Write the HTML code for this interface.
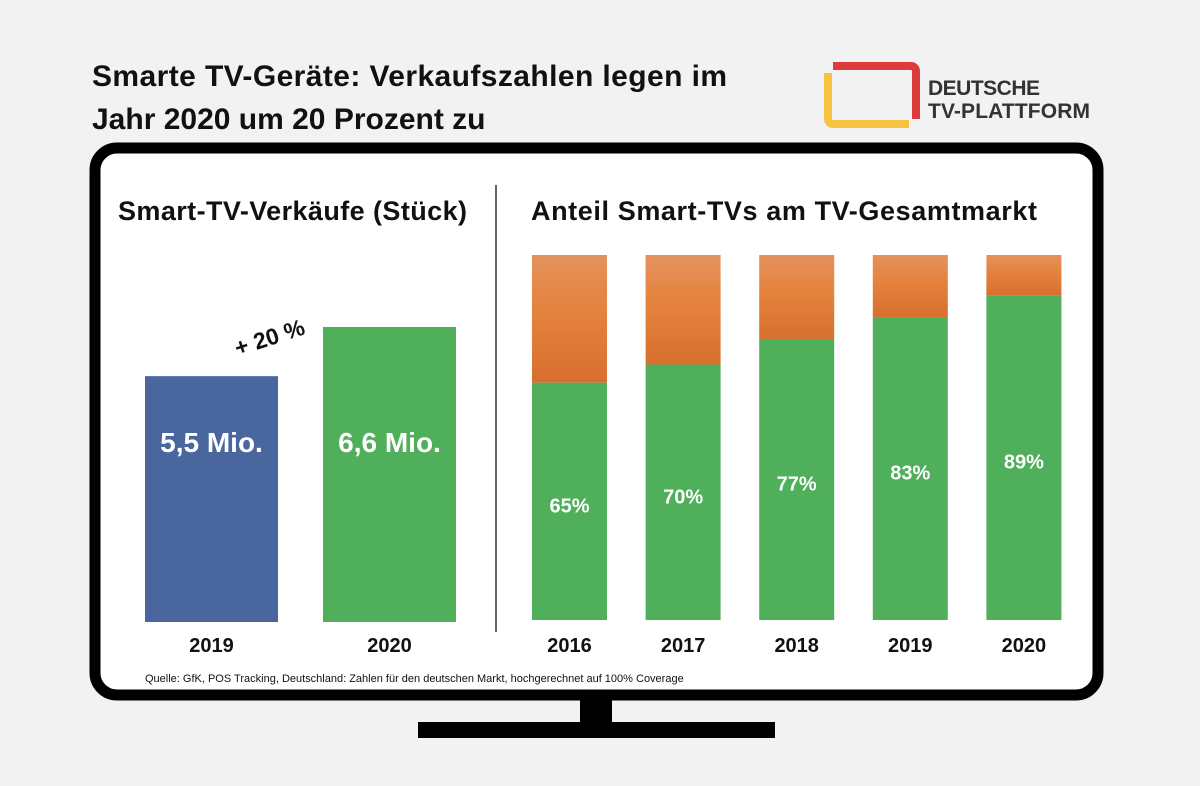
<!DOCTYPE html>
<html><head><meta charset="utf-8"><style>
body{margin:0;background:#f2f2f2;font-family:"Liberation Sans","DejaVu Sans",sans-serif;}
#wrap{position:relative;width:1200px;height:786px;overflow:hidden;}
</style></head><body>
<div id="wrap">
<svg width="1200" height="786" id="svg" font-family="Liberation Sans, DejaVu Sans, sans-serif">
<defs>
<linearGradient id="og" x1="0" y1="0" x2="0" y2="1"><stop offset="0" stop-color="#e3925e"/><stop offset="0.4" stop-color="#e5843f"/><stop offset="1" stop-color="#d86f2f"/></linearGradient>
</defs>
<text x="92" y="86" font-size="30" font-weight="bold" fill="#111" textLength="635">Smarte TV-Geräte: Verkaufszahlen legen im</text>
<text x="92" y="129" font-size="30" font-weight="bold" fill="#111">Jahr 2020 um 20 Prozent zu</text>
<g>
<path d="M833 66 H911 a5 5 0 0 1 5 5 V119" fill="none" stroke="#dd3b3b" stroke-width="8"/>
<path d="M828 73 V119 a5 5 0 0 0 5 5 H909" fill="none" stroke="#f5c242" stroke-width="8"/>
<text x="928" y="95" font-size="21" font-weight="bold" fill="#333" textLength="112">DEUTSCHE</text>
<text x="928" y="118" font-size="21" font-weight="bold" fill="#333" textLength="162">TV-PLATTFORM</text>
</g>
<rect x="95" y="148" width="1003" height="547" rx="22" fill="#fff" stroke="#000" stroke-width="11"/>
<rect x="580" y="700" width="32" height="24" fill="#000"/>
<rect x="418" y="722" width="357" height="16" fill="#000"/>
<line x1="496" y1="185" x2="496" y2="632" stroke="#333" stroke-width="1.5"/>
<text x="118" y="220" font-size="27" font-weight="bold" fill="#111" textLength="349">Smart-TV-Verkäufe (Stück)</text>
<text x="531" y="220" font-size="27" font-weight="bold" fill="#111" textLength="506">Anteil Smart-TVs am TV-Gesamtmarkt</text>
<text transform="translate(272,345) rotate(-18)" font-size="23" font-weight="bold" text-anchor="middle" fill="#111">+ 20 %</text>
<text x="145" y="682" font-size="11" fill="#111">Quelle: GfK, POS Tracking, Deutschland: Zahlen für den deutschen Markt, hochgerechnet auf 100% Coverage</text>
<g id="left"></g><g id="right"></g>
</svg>
</div>
<script>
const salesYears = ["2019","2020"];
const salesValues = [5.5, 6.6];
const salesLabels = ["5,5 Mio.","6,6 Mio."];
const salesColors = ["#4a669e","#4faf5a"];
const shareYears = ["2016","2017","2018","2019","2020"];
const shareValues = [65, 70, 77, 83, 89];
const shareLabels = ["65%","70%","77%","83%","89%"];
const NS="http://www.w3.org/2000/svg";
function mk(tag,attrs,parent){const e=document.createElementNS(NS,tag);for(const k in attrs)e.setAttribute(k,attrs[k]);parent.appendChild(e);return e;}
const L=document.getElementById('left');
const lBase=622, lScale=44.7;
const lx=i=>145+i*178, lw=133;
const ly=v=>lBase-v*lScale;
salesValues.forEach((v,i)=>{
 const r=mk('rect',{x:lx(i),y:ly(v),width:lw,height:lBase-ly(v),fill:salesColors[i]},L);
 
 
 const t=mk('text',{x:lx(i)+lw/2,y:452,'font-size':28,'font-weight':'bold',fill:'#fff','text-anchor':'middle'},L);
 t.textContent=salesLabels[i];
 
 
 const y=mk('text',{x:lx(i)+lw/2,y:652,'font-size':20,'font-weight':'bold',fill:'#111','text-anchor':'middle'},L);
 y.textContent=salesYears[i];
 
 
});
const R=document.getElementById('right');
const rTop=255, rBase=620;
const rx=i=>532+i*113.6, rw=75;
const ry=p=>rBase-(rBase-rTop)*p/100;
shareValues.forEach((v,i)=>{
 const o=mk('rect',{x:rx(i),y:ry(100),width:rw,height:ry(v)-ry(100),fill:'url(#og)'},R);
 
 
 const g=mk('rect',{x:rx(i),y:ry(v),width:rw,height:rBase-ry(v),fill:'#4faf5a'},R);
 
 
 const t=mk('text',{x:rx(i)+rw/2,y:(ry(v)+rBase)/2+11,'font-size':20,'font-weight':'bold',fill:'#fff','text-anchor':'middle'},R);
 t.textContent=shareLabels[i];
 
 
 const y=mk('text',{x:rx(i)+rw/2,y:652,'font-size':20,'font-weight':'bold',fill:'#111','text-anchor':'middle'},R);
 y.textContent=shareYears[i];
 
 
});
</script>
</body></html>
